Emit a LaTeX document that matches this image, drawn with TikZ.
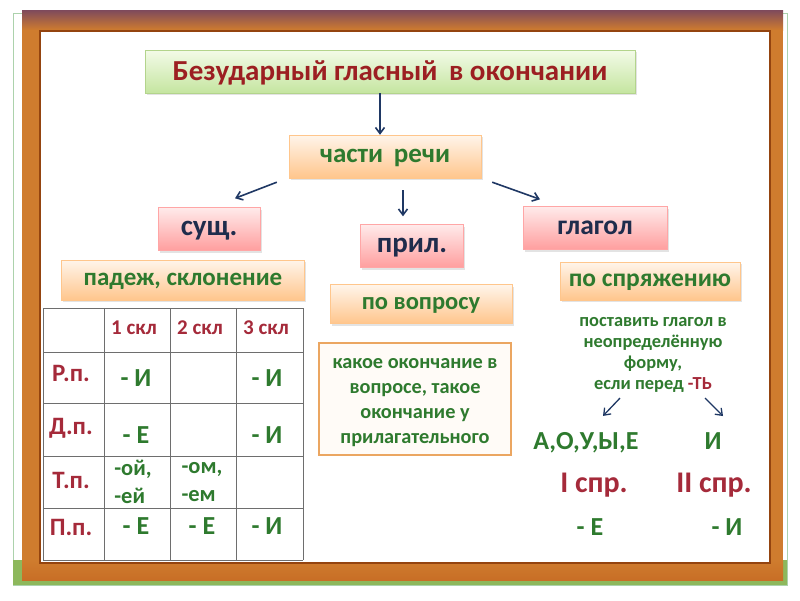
\documentclass[tikz,border=0pt]{standalone}
\usepackage{fontspec}
\setmainfont{Carlito}
\usetikzlibrary{arrows.meta,positioning,shadows}
\definecolor{cTitle}{HTML}{9C1F22}
\definecolor{cRed}{HTML}{A52A3A}
\definecolor{cGreen}{HTML}{2E7A2E}
\definecolor{cNavy}{HTML}{1F2C4C}
\definecolor{cArrow}{HTML}{1F3864}
\definecolor{cFrameA}{HTML}{7E4A5C}
\definecolor{cFrameB}{HTML}{CF7C2E}
\definecolor{cFrameC}{HTML}{C86E26}
\definecolor{cFrameIn}{HTML}{94440F}
\definecolor{cLime}{HTML}{8DB85C}
\definecolor{cGridLn}{HTML}{6E6E6E}
\definecolor{cTitleA}{HTML}{F3FBE8}
\definecolor{cTitleB}{HTML}{C5E5A0}
\definecolor{cTitleLn}{HTML}{B3D48C}

\begin{document}
\begin{tikzpicture}[
  x=1pt, y=-1pt,
  font=\bfseries,
  shad/.style={drop shadow={opacity=0.22, shadow xshift=1.5pt, shadow yshift=-2pt}},
  titlebox/.style={draw=cTitleLn, top color=cTitleA, bottom color=cTitleB, shad,
    minimum width=490pt, minimum height=43pt, text height=18pt, text depth=0pt,
    text=cTitle, font=\fontsize{29}{32}\selectfont\bfseries},
  obox/.style={draw=orange!45, top color=orange!8!white, bottom color=orange!45!white, shad,
    minimum height=40pt, text height=0.47*#1 pt, text depth=0pt, text=cGreen,
    font=\fontsize{#1}{30}\selectfont\bfseries},
  pbox/.style={draw=red!35, top color=red!8!white, bottom color=red!38!white, shad,
    minimum height=43pt, text height=0.47*#1 pt, text depth=0pt, text=cNavy,
    font=\fontsize{#1}{30}\selectfont\bfseries},
  hdr/.style={text=cRed, font=\fontsize{21}{24}\selectfont\bfseries},
  rowlab/.style={text=cRed, text depth=0pt, font=\fontsize{25}{28}\selectfont\bfseries},
  val/.style={text=cGreen, text depth=0pt, font=\fontsize{#1}{30}\selectfont\bfseries},
  val/.default=26,
  sval/.style={text=cGreen, align=left, font=\fontsize{22.5}{28}\selectfont\bfseries},
  arr/.style={-{Straight Barb[length=6pt,width=9pt]}, line width=1.6pt, cArrow},
]
\useasboundingbox (0,0) rectangle (800,600);
% -- frame -----------------------------------------------------------------
\draw[green!30!gray!50, line width=0.8pt] (13,13) rectangle (787,585);
\fill[cLime] (13,560) rectangle (787,585);
\fill[cFrameB] (22,10) rectangle (783,580);
\shade[top color=cFrameA, bottom color=cFrameB] (22,10) rectangle (783,30);
\shade[top color=cFrameB, bottom color=cFrameC] (22,560) rectangle (783,580);
\draw[fill=white, draw=cFrameIn, line width=2.5pt] (40,31) rectangle (770,563);

% -- top of the tree -------------------------------------------------------
\node[titlebox] (title) at (390,71.5) {Безударный гласный \,в окончании};
\node[obox=27, minimum width=192pt, minimum height=43pt] (parts) at (385,156.5) {части \,речи};

\node[pbox=29, minimum width=102pt] (noun) at (209,229) {сущ.};
\node[pbox=29, minimum width=103pt] (adj) at (412,246) {прил.};
\node[pbox=27.5, minimum width=144pt] (verb) at (595,228) {глагол};

\node[obox=25, minimum width=243pt] (case) at (183,280) {падеж, склонение};
\node[obox=24.5, minimum width=182pt, minimum height=39pt] (quest) at (421,304) {по вопросу};
\node[obox=25.5, minimum width=180pt, minimum height=38pt] (conj) at (650,281) {по спряжению};

\draw[arr] ([xshift=-10pt]title.south) -- ([xshift=-5pt]parts.north);
\draw[arr] ([xshift=-12pt,yshift=-4pt]parts.south west) -- ([xshift=26pt,yshift=9pt]noun.north);
\draw[arr] ([xshift=18pt,yshift=-12pt]parts.south) -- ([xshift=-9pt,yshift=8pt]adj.north);
\draw[arr] ([xshift=11pt,yshift=-4pt]parts.south east) -- ([xshift=-55pt,yshift=7pt]verb.north);

% -- table of declensions --------------------------------------------------
\foreach \x in {43,104,170,236,303} \draw[cGridLn, line width=0.8pt] (\x,308) -- (\x,560);
\foreach \y in {308,352,403,456,508,560} \draw[cGridLn, line width=0.8pt] (43,\y) -- (303,\y);

\foreach \x/\t [count=\i] in {134/1 скл, 200/2 скл, 266/3 скл}
  \node[hdr] (h\i) at (\x,328) {\t};
\foreach \y/\t [count=\i] in {373/Р.п., 426/Д.п., 480/Т.п., 527/П.п.}
  \node[rowlab] (r\i) at (71,\y) {\t};

\node[val] (v11) at (136,378) {- И};
\node[val] (v13) at (267,378) {- И};
\node[val] (v21) at (136,435) {- Е};
\node[val] (v23) at (267,435) {- И};
\node[sval] (v31) at (133,482) {-ой,\\-ей};
\node[sval] (v32) at (202,482) {-ом,\\-ем};
\node[val] (v41) at (136,526) {- Е};
\node[val] (v42) at (202,526) {- Е};
\node[val] (v43) at (267,526) {- И};

% -- adjective rule --------------------------------------------------------
\node[draw=orange!55!brown!70, line width=2pt, fill=orange!3, minimum width=192pt, minimum height=112pt] (rule)
  at (415,399) {};
\node[align=center, text=cGreen, font=\fontsize{20.3}{25}\selectfont\bfseries] (ruletxt)
  at ([yshift=-4pt]rule.center) {какое окончание в\\вопросе, такое\\окончание у\\прилагательного};

% -- verb rule -------------------------------------------------------------
\node[align=center, text=cGreen, font=\fontsize{18.4}{21}\selectfont\bfseries] (inf)
  at (653,355) {поставить глагол в\\неопределённую\\форму,\\если перед {\color{cRed}-ТЬ}};

\node[val=26] (aoue) at (586,441) {А,О,У,Ы,Е};
\node[val=26] (ii) at (713,441) {И};
\node[val=30, text=cRed] (c1) at (594,483) {I спр.};
\node[val=30, text=cRed] (c2) at (714,483) {II спр.};
\node[val] (e1) at (590,527) {- Е};
\node[val] (e2) at (727,527) {- И};

\draw[arr, line width=1.3pt] ([xshift=-33pt,yshift=-2pt]inf.south) -- ([xshift=17pt,yshift=13pt]aoue.north);
\draw[arr, line width=1.3pt] ([xshift=52pt,yshift=-2pt]inf.south) -- ([xshift=10pt,yshift=13pt]ii.north);
\end{tikzpicture}
\end{document}
